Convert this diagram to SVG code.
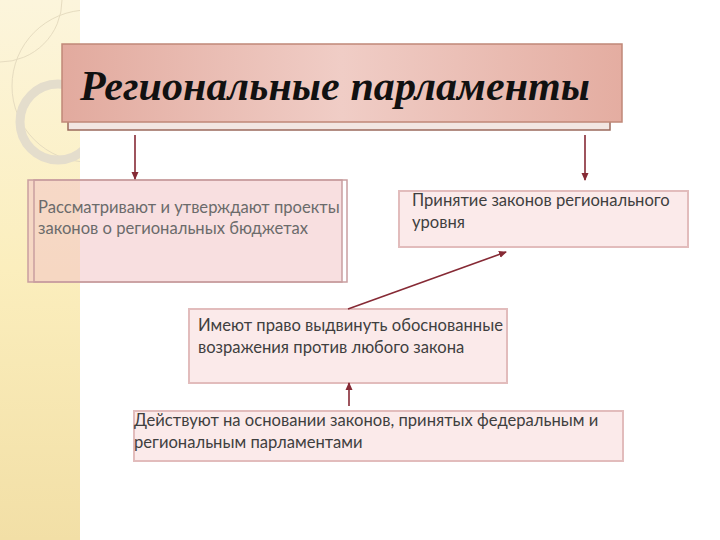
<svg xmlns="http://www.w3.org/2000/svg" width="720" height="540" viewBox="0 0 720 540">
<defs>
<linearGradient id="strip" x1="0" y1="0" x2="0" y2="1">
<stop offset="0" stop-color="#fcf5dc"/>
<stop offset="0.5" stop-color="#fbeebd"/>
<stop offset="1" stop-color="#f2dfa6"/>
</linearGradient>
<linearGradient id="title" x1="0" y1="0" x2="1" y2="0">
<stop offset="0" stop-color="#e2aa9e"/>
<stop offset="0.5" stop-color="#f0cdc6"/>
<stop offset="1" stop-color="#e4ada1"/>
</linearGradient>
<marker id="ah" markerWidth="8" markerHeight="8" refX="7" refY="4" orient="auto" markerUnits="userSpaceOnUse">
<path d="M0,0.5 L8,4 L0,7.5 Z" fill="#862a35"/>
</marker>
<style>
.conn{stroke:#862a35;stroke-width:1.6;fill:none;marker-end:url(#ah)}
.lbl{font-family:"Lato","Open Sans","Liberation Sans",sans-serif;font-size:16.6px;fill:#3f3f3f}
.grey{fill:#6b6b6b}
.box{fill:#fbeaea;stroke:#e2bcbc;stroke-width:2}
</style>
</defs>
<rect x="0" y="0" width="720" height="540" fill="#ffffff"/>
<rect x="0" y="0" width="80" height="540" fill="url(#strip)"/>
<g id="decor" fill="none">
<circle cx="0" cy="0" r="62" stroke="#e6dcc0" stroke-width="1"/>
<circle cx="88" cy="86" r="76" stroke="#e6dcc0" stroke-width="1"/>
<circle cx="58" cy="122" r="38" stroke="#e4ddcc" stroke-width="9"/>
<rect x="80" y="0" width="640" height="540" fill="#ffffff"/>
</g>
<g id="title-node">
<rect x="68" y="52" width="542" height="78" fill="#f2e6e2" stroke="#9b6a5c" stroke-width="1.5"/>
<rect x="62" y="44" width="560" height="78" fill="url(#title)" stroke="#c08878" stroke-width="1.5"/>
<text x="80" y="100" font-family="Liberation Serif,serif" font-size="42" font-weight="bold" font-style="italic" fill="#111111" textLength="510" lengthAdjust="spacing">Региональные парламенты</text>
</g>
<g id="node-budget">
<rect x="28" y="180" width="314" height="102" fill="#f2c4c6" fill-opacity="0.55" stroke="#c99ea0" stroke-width="1.5"/>
<rect x="34" y="180" width="313" height="102" fill="none" stroke="#c99ea0" stroke-width="1.5"/>
<text class="lbl grey" x="38" y="213">Рассматривают и утверждают проекты</text>
<text class="lbl grey" x="38" y="234">законов о региональных бюджетах</text>
</g>
<g id="node-adopt">
<rect class="box" x="399" y="191" width="289" height="56"/>
<text class="lbl" x="412" y="206">Принятие законов регионального</text>
<text class="lbl" x="412" y="228">уровня</text>
</g>
<g id="node-object">
<rect class="box" x="189" y="309" width="318" height="74"/>
<text class="lbl" x="198" y="331">Имеют право выдвинуть обоснованные</text>
<text class="lbl" x="198" y="353">возражения против любого закона</text>
</g>
<g id="node-act">
<rect class="box" x="134" y="411" width="489" height="50"/>
<text class="lbl" x="134" y="426">Действуют на основании законов, принятых федеральным и</text>
<text class="lbl" x="134" y="448">региональным парламентами</text>
</g>
<g id="connectors">
<line class="conn" x1="135" y1="135" x2="135" y2="179"/>
<line class="conn" x1="585" y1="135" x2="585" y2="180"/>
<line class="conn" x1="348" y1="309" x2="506" y2="252"/>
<line class="conn" x1="349" y1="406" x2="349" y2="383"/>
</g>
</svg>
